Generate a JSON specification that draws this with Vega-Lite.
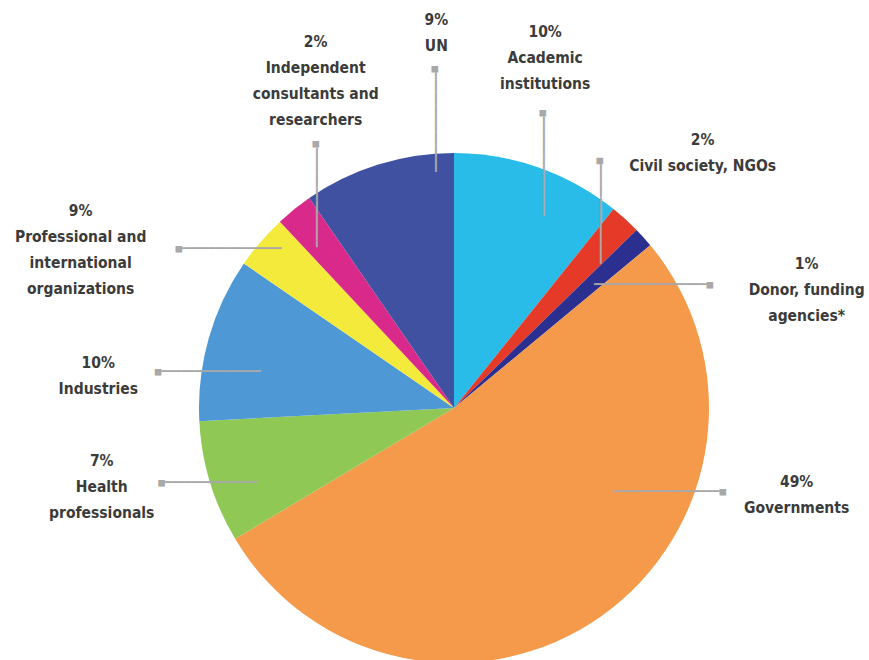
{
  "$schema": "https://vega.github.io/schema/vega-lite/v6.json",
  "width": 830,
  "height": 504,
  "autosize": {"type": "none"},
  "padding": {"left": 39, "top": 156, "right": 0, "bottom": 0},
  "background": "white",
  "config": {"view": {"stroke": null}},
  "data": {
    "values": [
      {"idx": 1, "name": "Academic institutions", "value": 10.75, "label": "10%\nAcademic\ninstitutions"},
      {"idx": 2, "name": "Civil society, NGOs", "value": 1.94, "label": "2%\nCivil society, NGOs"},
      {"idx": 3, "name": "Donor, funding agencies", "value": 1.28, "label": "1%\nDonor, funding\nagencies*"},
      {"idx": 4, "name": "Governments", "value": 52.4, "label": "49%\nGovernments"},
      {"idx": 5, "name": "Health professionals", "value": 7.75, "label": "7%\nHealth\nprofessionals"},
      {"idx": 6, "name": "Industries", "value": 10.4, "label": "10%\nIndustries"},
      {"idx": 7, "name": "Professional and international organizations", "value": 3.45, "label": "9%\nProfessional and\ninternational\norganizations"},
      {"idx": 8, "name": "Independent consultants and researchers", "value": 2.35, "label": "2%\nIndependent\nconsultants and\nresearchers"},
      {"idx": 9, "name": "UN", "value": 9.6, "label": "9%\nUN"}
    ]
  },
  "encoding": {
    "theta": {"field": "value", "type": "quantitative", "stack": true},
    "order": {"field": "idx", "type": "quantitative"},
    "detail": {"field": "name", "type": "nominal"}
  },
  "layer": [
    {
      "mark": {"type": "arc", "radius": 255},
      "encoding": {
        "color": {
          "field": "name",
          "type": "nominal",
          "legend": null,
          "scale": {
            "domain": ["Academic institutions", "Civil society, NGOs", "Donor, funding agencies", "Governments", "Health professionals", "Industries", "Professional and international organizations", "Independent consultants and researchers", "UN"],
            "range": ["#29BCE8", "#E63A28", "#2B2F8F", "#F5994A", "#8FC855", "#4E98D5", "#F3EA3B", "#D92A8C", "#4051A2"]
          }
        }
      }
    },
    {"mark": {"type": "text", "radius": 375, "dx": 93.8, "dy": -29.6, "fontSize": 15.5, "fontWeight": "bold", "font": "DejaVu Sans Condensed, sans-serif", "color": "#3b3b3b", "lineBreak": "\n", "lineHeight": 26, "align": "center", "baseline": "middle"},
     "encoding": {"text": {"condition": {"test": "datum.name === 'UN'", "field": "label", "type": "nominal"}, "value": ""}}},
    {"mark": {"type": "text", "radius": 362, "dx": -28.9, "dy": -34.4, "fontSize": 15.5, "fontWeight": "bold", "font": "DejaVu Sans Condensed, sans-serif", "color": "#3b3b3b", "lineBreak": "\n", "lineHeight": 26, "align": "center", "baseline": "middle"},
     "encoding": {"text": {"condition": {"test": "datum.name === 'Academic institutions'", "field": "label", "type": "nominal"}, "value": ""}}},
    {"mark": {"type": "text", "radius": 356, "dx": 9.4, "dy": -4.7, "fontSize": 15.5, "fontWeight": "bold", "font": "DejaVu Sans Condensed, sans-serif", "color": "#3b3b3b", "lineBreak": "\n", "lineHeight": 26, "align": "center", "baseline": "middle"},
     "encoding": {"text": {"condition": {"test": "datum.name === 'Civil society, NGOs'", "field": "label", "type": "nominal"}, "value": ""}}},
    {"mark": {"type": "text", "radius": 372, "dx": 76.1, "dy": 104.9, "fontSize": 15.5, "fontWeight": "bold", "font": "DejaVu Sans Condensed, sans-serif", "color": "#3b3b3b", "lineBreak": "\n", "lineHeight": 26, "align": "center", "baseline": "middle"},
     "encoding": {"text": {"condition": {"test": "datum.name === 'Donor, funding agencies'", "field": "label", "type": "nominal"}, "value": ""}}},
    {"mark": {"type": "text", "radius": 354, "dx": 138.2, "dy": -215.3, "fontSize": 15.5, "fontWeight": "bold", "font": "DejaVu Sans Condensed, sans-serif", "color": "#3b3b3b", "lineBreak": "\n", "lineHeight": 26, "align": "center", "baseline": "middle"},
     "encoding": {"text": {"condition": {"test": "datum.name === 'Governments'", "field": "label", "type": "nominal"}, "value": ""}}},
    {"mark": {"type": "text", "radius": 361, "dx": -6.9, "dy": -51.8, "fontSize": 15.5, "fontWeight": "bold", "font": "DejaVu Sans Condensed, sans-serif", "color": "#3b3b3b", "lineBreak": "\n", "lineHeight": 26, "align": "center", "baseline": "middle"},
     "encoding": {"text": {"condition": {"test": "datum.name === 'Health professionals'", "field": "label", "type": "nominal"}, "value": ""}}},
    {"mark": {"type": "text", "radius": 357, "dx": -12.2, "dy": 51.8, "fontSize": 15.5, "fontWeight": "bold", "font": "DejaVu Sans Condensed, sans-serif", "color": "#3b3b3b", "lineBreak": "\n", "lineHeight": 26, "align": "center", "baseline": "middle"},
     "encoding": {"text": {"condition": {"test": "datum.name === 'Industries'", "field": "label", "type": "nominal"}, "value": ""}}},
    {"mark": {"type": "text", "radius": 406, "dx": -65.7, "dy": 68.2, "fontSize": 15.5, "fontWeight": "bold", "font": "DejaVu Sans Condensed, sans-serif", "color": "#3b3b3b", "lineBreak": "\n", "lineHeight": 26, "align": "center", "baseline": "middle"},
     "encoding": {"text": {"condition": {"test": "datum.name === 'Professional and international organizations'", "field": "label", "type": "nominal"}, "value": ""}}},
    {"mark": {"type": "text", "radius": 355, "dx": 84.2, "dy": -89.9, "fontSize": 15.5, "fontWeight": "bold", "font": "DejaVu Sans Condensed, sans-serif", "color": "#3b3b3b", "lineBreak": "\n", "lineHeight": 26, "align": "center", "baseline": "middle"},
     "encoding": {"text": {"condition": {"test": "datum.name === 'Independent consultants and researchers'", "field": "label", "type": "nominal"}, "value": ""}}},
    {"mark": {"type": "text", "radius": 290, "angle": 90, "dx": -12.2, "dy": -67.5, "fontSize": 11, "font": "DejaVu Sans Mono", "color": "#a8a8a8", "align": "center", "baseline": "middle"},
     "encoding": {"text": {"condition": {"test": "datum.name === 'UN'", "value": "■━━━━━━━━━━━━━━━"}, "value": ""}}},
    {"mark": {"type": "text", "radius": 261, "angle": 90, "dx": 1.3, "dy": -2.5, "fontSize": 11, "font": "DejaVu Sans Mono", "color": "#a8a8a8", "align": "center", "baseline": "middle"},
     "encoding": {"text": {"condition": {"test": "datum.name === 'Academic institutions'", "value": "■━━━━━━━━━━━━━━━"}, "value": ""}}},
    {"mark": {"type": "text", "radius": 246, "angle": 90, "dx": -15.2, "dy": 19.2, "fontSize": 11, "font": "DejaVu Sans Mono", "color": "#a8a8a8", "align": "center", "baseline": "middle"},
     "encoding": {"text": {"condition": {"test": "datum.name === 'Civil society, NGOs'", "value": "■━━━━━━━━━━━━━━━"}, "value": ""}}},
    {"mark": {"type": "text", "radius": 234, "dx": 25.6, "dy": 33.6, "fontSize": 11, "font": "DejaVu Sans Mono", "color": "#a8a8a8", "align": "center", "baseline": "middle"},
     "encoding": {"text": {"condition": {"test": "datum.name === 'Donor, funding agencies'", "value": "━━━━━━━━━━━━━━━━━■"}, "value": ""}}},
    {"mark": {"type": "text", "radius": 232, "dx": 81.8, "dy": -105.8, "fontSize": 11, "font": "DejaVu Sans Mono", "color": "#a8a8a8", "align": "center", "baseline": "middle"},
     "encoding": {"text": {"condition": {"test": "datum.name === 'Governments'", "value": "━━━━━━━━━━━━━━━━■"}, "value": ""}}},
    {"mark": {"type": "text", "radius": 257, "dx": -0.3, "dy": 0.6, "fontSize": 11, "font": "DejaVu Sans Mono", "color": "#a8a8a8", "align": "center", "baseline": "middle"},
     "encoding": {"text": {"condition": {"test": "datum.name === 'Health professionals'", "value": "■━━━━━━━━━━━━━━"}, "value": ""}}},
    {"mark": {"type": "text", "radius": 249, "dx": -6.7, "dy": 32.2, "fontSize": 11, "font": "DejaVu Sans Mono", "color": "#a8a8a8", "align": "center", "baseline": "middle"},
     "encoding": {"text": {"condition": {"test": "datum.name === 'Industries'", "value": "■━━━━━━━━━━━━━━━"}, "value": ""}}},
    {"mark": {"type": "text", "radius": 276, "dx": -16.4, "dy": 20.6, "fontSize": 11, "font": "DejaVu Sans Mono", "color": "#a8a8a8", "align": "center", "baseline": "middle"},
     "encoding": {"text": {"condition": {"test": "datum.name === 'Professional and international organizations'", "value": "■━━━━━━━━━━━━━━━"}, "value": ""}}},
    {"mark": {"type": "text", "radius": 254, "angle": 90, "dx": -16, "dy": -21.7, "fontSize": 11, "font": "DejaVu Sans Mono", "color": "#a8a8a8", "align": "center", "baseline": "middle"},
     "encoding": {"text": {"condition": {"test": "datum.name === 'Independent consultants and researchers'", "value": "■━━━━━━━━━━━━━━━"}, "value": ""}}}
  ]
}
